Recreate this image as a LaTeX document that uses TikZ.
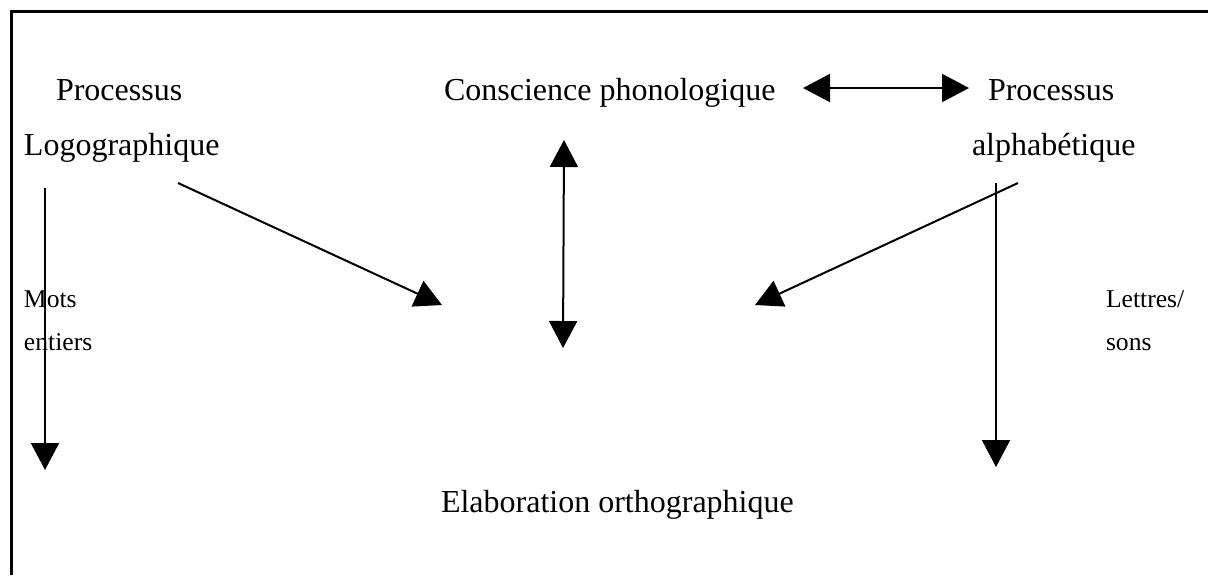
\documentclass[tikz,border=0pt]{standalone}
\usepackage{fontspec}
\setmainfont{Liberation Serif}
\usetikzlibrary{arrows.meta,positioning}

\begin{document}
\begin{tikzpicture}[x=0.5pt,y=-0.5pt,>={Triangle[length=13.5pt,width=14pt]},line width=1pt,
            txt/.style={inner sep=0pt,anchor=base west,font=\fontsize{16}{19}\selectfont},
            small/.style={inner sep=0pt,anchor=base west,font=\fontsize{12.8}{15}\selectfont}]
            \useasboundingbox (0,0) rectangle (1208,575);
            % Frame (left and top sides only)
            \draw[line width=1.5pt] (11,575) -- (11,11) -- (1208,11);

            % Define the texts as nodes
            \node[txt] (procL)   at (55,100)  {Processus};
            \node[txt] (logo)    at (23,155)  {Logographique};
            \node[txt] (consc)   at (443,100) {Conscience phonologique};
            \node[txt] (procR)   at (987,100) {Processus};
            \node[txt] (alpha)   at (971,155) {alphab\'etique};
            \node[txt] (elab)    at (440,512) {Elaboration orthographique};
            \node[small] (mots)    at (23,307)   {Mots};
            \node[small] (entiers) at (23,350)   {entiers};
            \node[small] (lettres) at (1105,307) {Lettres/};
            \node[small] (sons)    at (1105,350) {sons};

            % Free ends of the arrows
            \coordinate (hL)  at (803,88);
            \coordinate (hR)  at (969,88);
            \coordinate (vT)  at (564,140);
            \coordinate (vB)  at (563,348);
            \coordinate (dLs) at (178,183);
            \coordinate (dLe) at (442,305);
            \coordinate (dRs) at (1018,183);
            \coordinate (dRe) at (755,305);
            \coordinate (lT)  at (45,188);
            \coordinate (lB)  at (45,470);
            \coordinate (rT)  at (996,183);
            \coordinate (rB)  at (996,467);

            % Connect with arrows
            \draw[<->] (hL) -- (hR);
            \draw[<->] (vT) -- (vB);
            \draw[->] (dLs) -- (dLe);
            \draw[->] (dRs) -- (dRe);
            \draw[->] (lT) -- (lB);
            \draw[->] (rT) -- (rB);
        \end{tikzpicture}
\end{document}
